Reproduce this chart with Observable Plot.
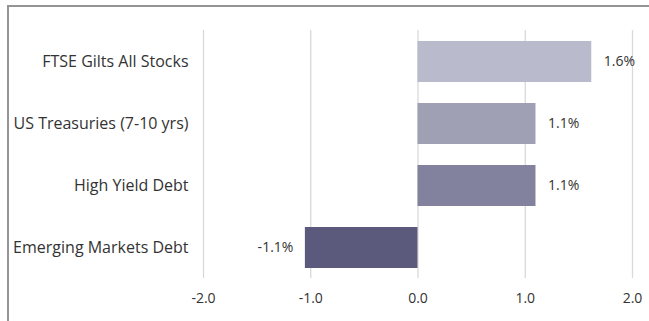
<!DOCTYPE html>
<html>
<head>
<meta charset="utf-8">
<script src="https://cdn.jsdelivr.net/npm/d3@7"></script>
<script src="https://cdn.jsdelivr.net/npm/@observablehq/plot@0.6"></script>
<style>
  html, body { margin: 0; padding: 0; background: #fff; }
  #wrap { position: relative; width: 649px; height: 321px; overflow: hidden; }
  #frame { position: absolute; left: 7px; top: 5px; width: 660px; height: 340px; border: 2px solid #949494; box-sizing: border-box; }
  #chart { position: absolute; left: 0; top: 0; }
</style>
</head>
<body>
<div id="wrap">
  <div id="frame"></div>
  <div id="chart"></div>
</div>
<script>
const categories = ["FTSE Gilts All Stocks", "US Treasuries (7-10 yrs)", "High Yield Debt", "Emerging Markets Debt"];
const values = [1.62, 1.10, 1.10, -1.05];
const labels = ["1.6%", "1.1%", "1.1%", "-1.1%"];
const colors = ["#b9bacb", "#a0a0b5", "#83829e", "#5b5a7c"];
const xTicks = [-2, -1, 0, 1, 2];

const data = categories.map((c, i) => ({category: c, value: values[i], label: labels[i], color: colors[i]}));
const fmt = d => d.toFixed(1);

const chart = Plot.plot({
  width: 649,
  height: 321,
  marginLeft: 203,
  marginRight: 17,
  marginTop: 30,
  marginBottom: 43,
  style: {fontFamily: "'Open Sans', sans-serif", fontSize: "14px", color: "#333", background: "transparent"},
  x: {domain: [-2, 2], ticks: xTicks, tickFormat: fmt, label: null},
  y: {domain: categories, paddingInner: 0.34, paddingOuter: 0.16, label: null},
  marks: [
    Plot.gridX(xTicks, {stroke: "#d9d9d9", strokeOpacity: 1, strokeWidth: 1.3}),
    Plot.barX(data, {x: "value", y: "category", fill: "color"}),
    Plot.text(data.filter(d => d.value >= 0), {x: "value", y: "category", text: "label", textAnchor: "start", dx: 12, fill: "#333", fontSize: 14}),
    Plot.text(data.filter(d => d.value < 0), {x: "value", y: "category", text: "label", textAnchor: "end", dx: -12, fill: "#333", fontSize: 14}),
    Plot.axisX({ticks: xTicks, tickSize: 0, tickPadding: 15, tickFormat: fmt, fontSize: 14, fill: "#333", label: null}),
    Plot.axisY({tickSize: 0, tickPadding: 15, fontSize: 16, fill: "#333", label: null})
  ]
});
document.getElementById("chart").appendChild(chart);
</script>
</body>
</html>
